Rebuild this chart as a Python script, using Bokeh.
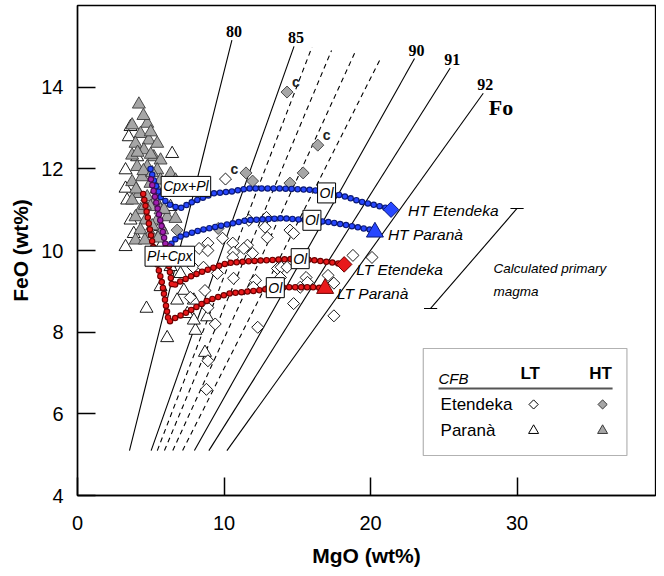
import math
from bokeh.plotting import figure
from bokeh.models import Range1d, FixedTicker, Label, BoxAnnotation
from bokeh.core.properties import value
from bokeh.embed import file_html
from bokeh.resources import INLINE

# ---------------- data ----------------
mgo_ticks = [0, 10, 20, 30]
feo_ticks = [4, 6, 8, 10, 12, 14]

# olivine-liquid equilibrium isopleths (Fo) - FeO/MgO = (1/Fo - 1)/Kd * M(FeO)/M(MgO)
fo_values = [80, 85, 86, 87, 88, 89, 90, 91, 92]
fo_dashed = [False, False, True, True, True, True, False, False, False]
fo_labelled = [True, True, False, False, False, False, True, True, True]
fo_feo_bottom = [5.1, 5.1, 5.1, 5.1, 5.1, 5.1, 5.1, 5.1, 5.1]
fo_feo_top = [15.15, 15.0, 14.98, 14.9, 14.83, 14.7, 14.7, 14.47, 13.85]
KD = 0.31
FEO_MW, MGO_MW = 71.85, 40.30

# samples
lte_mgo = [10.1, 11.7, 12.9, 12.8, 14.5, 9.9, 8.9, 10.6, 8.3, 10.65, 11.6, 11.35, 11.95, 7.9, 8.6,
           10.6, 13.65, 13.9, 18.8, 20.1, 17.1, 15.6, 12.15, 10.65, 17.5, 7.7, 8.7, 9.4, 12.3, 8.9,
           12.0, 9.55, 8.9, 14.75, 15.7, 14.3, 15.2, 14.75, 13.85, 8.8, 8.9, 17.5, 12.95]
lte_feo = [11.75, 10.74, 10.81, 10.57, 10.5, 10.3, 10.18, 10.18, 10.05, 9.96, 10.13, 10.05, 9.93, 9.59, 9.59,
           9.83, 9.56, 9.59, 9.88, 9.83, 9.39, 9.34, 9.27, 9.32, 9.2, 8.85, 9.02, 8.2, 8.12, 8.6,
           9.1, 9.44, 10.0, 10.42, 9.22, 9.59, 9.1, 8.7, 9.34, 6.6, 7.3, 8.4, 10.32]

hte_mgo = [14.3, 16.4, 11.5, 11.95, 15.4, 14.5, 9.6, 6.8]
hte_feo = [13.88, 12.58, 11.9, 11.7, 11.9, 11.65, 10.54, 10.5]

htp_mgo = [4.19, 3.73, 4.76, 4.30, 3.96, 4.87, 5.44, 4.53, 3.73, 5.21, 5.67, 4.07, 4.76, 5.44, 4.41,
           3.73, 4.98, 5.67, 4.19, 4.76, 3.73, 5.32, 4.30, 4.98, 5.67, 3.96, 4.64, 5.44, 6.12, 6.69,
           4.30, 4.98, 5.78, 3.96, 6.35, 6.12, 6.69, 4.5, 5.0, 4.1, 5.0, 4.5, 5.1, 4.0, 5.4, 4.6,
           5.1, 4.6, 5.5, 5.9]
htp_feo = [13.58, 13.07, 13.11, 12.86, 12.62, 12.70, 12.62, 12.46, 12.33, 12.29, 12.21, 12.05, 12.05, 11.97, 11.80,
           11.68, 11.64, 11.72, 11.39, 11.31, 11.23, 11.23, 10.99, 11.07, 10.99, 10.82, 10.74, 10.74, 10.82, 10.78,
           10.50, 10.41, 10.50, 10.25, 11.88, 11.56, 11.72, 13.3, 12.9, 12.4, 12.35, 11.95, 11.9, 11.5, 11.5, 11.1,
           10.6, 10.25, 10.3, 11.0]

ltp_mgo = [3.62, 3.28, 3.28, 3.28, 6.46, 4.71, 6.12, 8.05, 8.85, 7.94, 7.26, 3.50, 4.07, 3.39, 3.62,
           3.84, 6.69, 5.67, 6.35, 7.03, 5.67, 6.80, 7.49, 7.94, 6.35, 5.67, 8.7]
ltp_feo = [13.03, 11.97, 11.52, 10.09, 12.37, 8.58, 7.86, 8.04, 8.37, 8.78, 9.02, 12.78, 12.29, 11.23, 10.74,
           10.41, 9.84, 10.09, 9.60, 9.43, 9.11, 8.78, 8.45, 8.29, 11.07, 10.58, 7.5]

# points annotated "c"
c_mgo = [14.3, 16.4, 10.1]
c_feo = [13.88, 12.58, 11.75]

# calculated liquid lines of descent (from primary magma backwards)
ht_ete_mgo = [21.4, 20.9, 19.5, 18.0, 16.1, 13.9, 11.6, 10.6, 9.3, 7.9, 7.0, 6.35, 5.67, 5.21, 4.98]
ht_ete_feo = [11.0, 11.06, 11.18, 11.35, 11.48, 11.52, 11.52, 11.45, 11.4, 11.2, 11.03, 11.11, 11.31, 11.72, 12.0]
ht_par_mgo = [20.3, 20.1, 18.8, 17.3, 16.0, 13.9, 11.6, 9.3, 8.4, 7.2, 6.55, 6.3]
ht_par_feo = [10.45, 10.5, 10.59, 10.69, 10.74, 10.79, 10.74, 10.57, 10.5, 10.37, 10.25, 10.1]
ht_par_evol_mgo = [6.3, 6.1, 5.55, 5.0]
ht_par_evol_feo = [10.1, 10.0, 10.9, 11.76]
lt_ete_mgo = [18.2, 17.3, 15.2, 13.9, 11.8, 10.2, 9.3, 8.4, 7.7, 7.0, 6.46, 6.25, 6.0]
lt_ete_feo = [9.66, 9.71, 9.8, 9.78, 9.74, 9.69, 9.58, 9.47, 9.36, 9.24, 9.12, 9.6, 10.09]
lt_par_mgo = [16.9, 16.1, 14.5, 13.5, 12.3, 10.4, 8.9, 7.5, 6.58, 6.23, 5.78, 5.21, 4.8, 4.41]
lt_par_feo = [9.07, 9.1, 9.1, 9.09, 9.02, 8.95, 8.78, 8.49, 8.33, 8.25, 9.19, 10.0, 10.8, 11.52]

# primary magmas
prim_names = ["HT Etendeka", "HT Paranà", "LT Etendeka", "LT Paranà"]
prim_mgo = [21.4, 20.3, 18.2, 16.9]
prim_feo = [11.0, 10.45, 9.66, 9.07]

# phase boxes on the curves
phase_text = ["Cpx+Pl", "Pl+Cpx", "Ol", "Ol", "Ol", "Ol"]
phase_mgo = [7.4, 6.3, 17.0, 16.0, 15.2, 13.5]
phase_feo = [11.57, 9.86, 11.41, 10.74, 9.8, 9.09]

# bracket of calculated primary magmas
bracket_mgo = [24.1, 30.0]
bracket_feo = [8.58, 11.03]

# ---------------- figure ----------------
p = figure(frame_width=578, frame_height=490, x_range=Range1d(0, 39.45), y_range=Range1d(4, 16.0),
           output_backend="svg", toolbar_location=None,
           min_border_left=77, min_border_right=1, min_border_top=5, min_border_bottom=78)
p.xgrid.visible = False
p.ygrid.visible = False
p.outline_line_color = "black"
p.outline_line_width = 1.3
p.background_fill_color = "white"
p.border_fill_color = "white"

for ax in (p.xaxis[0], p.yaxis[0]):
    ax.major_tick_in = 18
    ax.major_tick_out = 0
    ax.minor_tick_line_color = None
    ax.axis_line_width = 1.5
    ax.major_tick_line_width = 1.5
    ax.major_label_text_font = "Liberation Sans"
    ax.major_label_text_font_size = "20px"
    ax.major_label_text_color = "black"
    ax.axis_label_text_font = "Liberation Sans"
    ax.axis_label_text_font_style = "bold"
    ax.axis_label_text_color = "black"
p.xaxis.ticker = FixedTicker(ticks=mgo_ticks)
p.yaxis.ticker = FixedTicker(ticks=feo_ticks)
p.xaxis.axis_label = "MgO (wt%)"
p.yaxis.axis_label = "FeO (wt%)"
p.xaxis.axis_label_text_font_size = "21px"
p.yaxis.axis_label_text_font_size = "21px"
p.xaxis.major_label_standoff = 20
p.yaxis.major_label_standoff = 14
p.xaxis.axis_label_standoff = 11
p.yaxis.axis_label_standoff = 6

# Fo isopleths
slopes = [(100.0 / f - 1.0) / KD * FEO_MW / MGO_MW for f in fo_values]
fx0 = [b / s for b, s in zip(fo_feo_bottom, slopes)]
fx1 = [t / s for t, s in zip(fo_feo_top, slopes)]
for dashed in (False, True):
    idx = [i for i in range(len(fo_values)) if fo_dashed[i] == dashed]
    p.segment(x0=[fx0[i] for i in idx], y0=[fo_feo_bottom[i] for i in idx],
              x1=[fx1[i] for i in idx], y1=[fo_feo_top[i] for i in idx],
              line_color="black", line_width=1.1,
              line_dash="5 4" if dashed else "solid")
lab = [i for i in range(len(fo_values)) if fo_labelled[i]]
p.text(x=[fx1[i] for i in lab], y=[fo_feo_top[i] for i in lab],
       text=[str(fo_values[i]) for i in lab],
       text_font=value("Liberation Serif"), text_font_style="bold", text_font_size="16px",
       text_align="center", text_baseline="bottom", x_offset=2, y_offset=-3, text_color="black")
p.add_layout(Label(x=28.9, y=13.5, text="Fo", text_font="Liberation Serif", text_font_style="bold",
                   text_font_size="22px", text_align="center", text_baseline="middle", text_color="black"))

# samples
GRAY = "#a6a6a6"
p.scatter(ltp_mgo, ltp_feo, marker="triangle", size=13, fill_color="white", line_color="black", line_width=0.9)
p.scatter(htp_mgo, htp_feo, marker="triangle", size=13, fill_color=GRAY, line_color="#3a3a3a", line_width=0.9)
p.scatter(lte_mgo, lte_feo, marker="square", angle=math.pi / 4, size=8.5, fill_color="white",
          line_color="black", line_width=0.9)
p.scatter(hte_mgo, hte_feo, marker="square", angle=math.pi / 4, size=8.5, fill_color=GRAY,
          line_color="#3a3a3a", line_width=0.9)
p.text(x=c_mgo, y=c_feo, text=["c"] * len(c_mgo), text_font=value("Liberation Sans"),
       text_font_size="14px", text_font_style="bold", x_offset=5, y_offset=-2,
       text_baseline="bottom", text_align="left", text_color="#222222")

# bracket for calculated primary magmas
p.line(bracket_mgo, bracket_feo, line_color="black", line_width=1.1)
p.segment(x0=[m - 0.45 for m in bracket_mgo], y0=bracket_feo,
          x1=[m + 0.45 for m in bracket_mgo], y1=bracket_feo, line_color="black", line_width=1.1)
p.add_layout(Label(x=28.4, y=9.56, text="Calculated primary", text_font="Liberation Sans",
                   text_font_style="italic", text_font_size="13.5px", text_baseline="middle", text_color="black"))
p.add_layout(Label(x=28.4, y=9.0, text="magma", text_font="Liberation Sans",
                   text_font_style="italic", text_font_size="13.5px", text_baseline="middle", text_color="black"))


def dotted(xs, ys, fill, edge):
    p.line(xs, ys, line_color=edge, line_width=6.5, line_dash="0 6", line_cap="round", line_join="round")
    p.line(xs, ys, line_color=fill, line_width=4.3, line_dash="0 6", line_cap="round", line_join="round")


BLUE, BLUE_D = "#2747ff", "#0b1a78"
RED, RED_D = "#e8191b", "#6e0000"
PURP, PURP_D = "#a21fb0", "#4a0a52"
dotted(ht_ete_mgo, ht_ete_feo, BLUE, BLUE_D)
dotted(ht_par_mgo, ht_par_feo, BLUE, BLUE_D)
dotted(ht_par_evol_mgo, ht_par_evol_feo, PURP, PURP_D)
dotted(lt_ete_mgo, lt_ete_feo, RED, RED_D)
dotted(lt_par_mgo, lt_par_feo, RED, RED_D)

# primary magma symbols
p.scatter(prim_mgo[0:1], prim_feo[0:1], marker="square", angle=math.pi / 4, size=11,
          fill_color=BLUE, line_color=BLUE_D, line_width=1)
p.scatter(prim_mgo[1:2], prim_feo[1:2], marker="triangle", size=17, fill_color=BLUE, line_color=BLUE_D, line_width=1)
p.scatter(prim_mgo[2:3], prim_feo[2:3], marker="square", angle=math.pi / 4, size=11,
          fill_color=RED, line_color=RED_D, line_width=1)
p.scatter(prim_mgo[3:4], prim_feo[3:4], marker="triangle", size=17, fill_color=RED, line_color=RED_D, line_width=1)
p.text(x=prim_mgo, y=prim_feo, text=prim_names, text_font=value("Liberation Sans"),
       text_font_style="italic", text_font_size="15.5px", text_baseline="top",
       x_offset=[17, 13, 12, 12], y_offset=[-8, -6, -3, -3], text_color="black")

# phase boxes
for t, xm, yf in zip(phase_text, phase_mgo, phase_feo):
    p.add_layout(Label(x=xm, y=yf, text=t, text_font="Liberation Sans", text_font_style="italic",
                       text_font_size="14px", text_align="center", text_baseline="middle",
                       background_fill_color="white", border_line_color="black", border_line_width=1,
                       padding=2, text_color="black"))

# legend table
p.add_layout(BoxAnnotation(left=23.6, right=37.5, bottom=4.98, top=7.6, fill_color="white", fill_alpha=1,
                           line_color="black", line_width=1.2, level="underlay"))
p.add_layout(Label(x=24.64, y=6.87, text="CFB", text_font="Liberation Sans", text_font_style="italic",
                   text_font_size="15px", text_baseline="middle", text_color="black"))
for t, xm in (("LT", 30.9), ("HT", 35.7)):
    p.add_layout(Label(x=xm, y=6.99, text=t, text_font="Liberation Sans", text_font_style="bold",
                       text_font_size="17px", text_align="center", text_baseline="middle", text_color="black"))
p.line([24.64, 36.52], [6.62, 6.62], line_color="#555555", line_width=1.8)
for t, yf in (("Etendeka", 6.23), ("Paranà", 5.59)):
    p.add_layout(Label(x=24.78, y=yf, text=t, text_font="Liberation Sans", text_font_size="17px",
                       text_baseline="middle", text_color="black"))
p.scatter([31.13], [6.23], marker="square", angle=math.pi / 4, size=6.5, fill_color="white", line_color="black")
p.scatter([35.84], [6.23], marker="square", angle=math.pi / 4, size=6.5, fill_color=GRAY, line_color="#3a3a3a")
p.scatter([31.13], [5.59], marker="triangle", size=10, fill_color="white", line_color="black")
p.scatter([35.84], [5.59], marker="triangle", size=10, fill_color=GRAY, line_color="#3a3a3a")

open("out.html", "w").write(file_html(p, INLINE))
